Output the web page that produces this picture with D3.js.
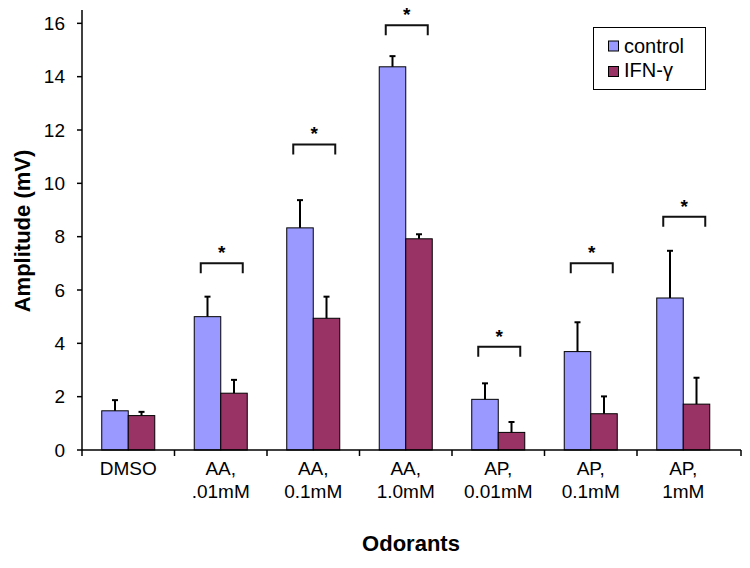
<!DOCTYPE html>
<html>
<head>
<meta charset="utf-8">
<script src="https://cdn.jsdelivr.net/npm/d3@7"></script>
<style>
  html, body { margin: 0; padding: 0; background: #fff; }
  svg { display: block; font-family: "Liberation Sans", Arial, sans-serif; }
</style>
</head>
<body>
<svg id="chart" width="750" height="568"></svg>
<script>
// ---- data ----
const categories = [["DMSO"], ["AA,", ".01mM"], ["AA,", "0.1mM"], ["AA,", "1.0mM"], ["AP,", "0.01mM"], ["AP,", "0.1mM"], ["AP,", "1mM"]];
const seriesNames = ["control", "IFN-\u03B3"];
const controlValues = [1.47, 5.0, 8.33, 14.37, 1.9, 3.69, 5.7];
const controlErrors = [0.4, 0.75, 1.04, 0.4, 0.6, 1.1, 1.77];
const ifnValues = [1.29, 2.13, 4.94, 7.92, 0.66, 1.36, 1.72];
const ifnErrors = [0.14, 0.5, 0.81, 0.17, 0.39, 0.65, 0.99];
const bracketLevels = [null, 7.0, 11.46, 15.93, 3.87, 7.0, 8.75];
const yTicks = [0, 2, 4, 6, 8, 10, 12, 14, 16];
const colors = ["#9999FF", "#993366"];

(function () {
// ---- layout ----
const svg = d3.select("#chart");
const mLeft = 82, mBottom = 450, mTop = 10, axisEnd = 741, bandEnd = 729.5;

const y = d3.scaleLinear().domain([0, 16.5]).range([mBottom, mTop]);
const x = d3.scaleBand().domain(d3.range(categories.length)).range([mLeft, bandEnd]).paddingInner(0).paddingOuter(0);
const xs = d3.scaleBand().domain([0, 1]).range([0, x.bandwidth()]).paddingInner(0).paddingOuter(0.745);

svg.append("rect").attr("width", 750).attr("height", 568).attr("fill", "#fff");

const series = [
  { name: seriesNames[0], values: controlValues, errors: controlErrors, color: colors[0] },
  { name: seriesNames[1], values: ifnValues, errors: ifnErrors, color: colors[1] }
];

// bars
series.forEach((s, si) => {
  const g = svg.append("g");
  g.selectAll("rect").data(s.values).enter().append("rect")
    .attr("x", (d, i) => x(i) + xs(si))
    .attr("y", d => y(d))
    .attr("width", xs.bandwidth())
    .attr("height", d => y(0) - y(d))
    .attr("fill", s.color)
    .attr("stroke", "#000")
    .attr("stroke-width", 1);
  const eg = svg.append("g").attr("stroke", "#000").attr("stroke-width", 2);
  s.values.forEach((v, i) => {
    const cx = x(i) + xs(si) + xs.bandwidth() / 2;
    const yt = y(v + s.errors[i]);
    eg.append("line").attr("x1", cx).attr("x2", cx).attr("y1", y(v)).attr("y2", yt);
    eg.append("line").attr("x1", cx - 3).attr("x2", cx + 3).attr("y1", yt).attr("y2", yt);
  });
});

// significance brackets
const bg = svg.append("g");
bracketLevels.forEach((b, i) => {
  if (b == null) return;
  const cx = x(i) + x.bandwidth() / 2 + 1;
  const yb = y(b);
  bg.append("path")
    .attr("d", `M${cx - 21},${yb + 10}V${yb}H${cx + 21}V${yb + 10}`)
    .attr("fill", "none").attr("stroke", "#111").attr("stroke-width", 2);
  bg.append("text").attr("x", cx).attr("y", yb - 4)
    .attr("text-anchor", "middle").attr("font-size", 19).attr("font-weight", "bold").attr("fill", "#000").text("*");
});

// y axis
const yAxis = svg.append("g");
yAxis.append("line").attr("x1", mLeft).attr("x2", mLeft).attr("y1", y(0)).attr("y2", mTop)
  .attr("stroke", "#000").attr("stroke-width", 1.5);
yTicks.forEach(t => {
  yAxis.append("line").attr("x1", mLeft - 5).attr("x2", mLeft).attr("y1", y(t)).attr("y2", y(t))
    .attr("stroke", "#000").attr("stroke-width", 1.5);
  yAxis.append("text").attr("x", mLeft - 17).attr("y", y(t)).attr("dy", "0.35em")
    .attr("text-anchor", "end").attr("font-size", 19).attr("fill", "#000").text(t);
});

// x axis
const xAxis = svg.append("g");
xAxis.append("line").attr("x1", mLeft).attr("x2", axisEnd).attr("y1", mBottom).attr("y2", mBottom)
  .attr("stroke", "#000").attr("stroke-width", 1.5);
const tickXs = d3.range(categories.length).map(i => x(i)).concat([axisEnd]);
tickXs.forEach(tx => {
  xAxis.append("line").attr("x1", tx).attr("x2", tx).attr("y1", mBottom).attr("y2", mBottom + 6)
    .attr("stroke", "#000").attr("stroke-width", 1.5);
});
categories.forEach((lines, i) => {
  const t = xAxis.append("text").attr("text-anchor", "middle").attr("font-size", 19).attr("fill", "#000");
  lines.forEach((ln, k) => {
    t.append("tspan").attr("x", x(i) + x.bandwidth() / 2).attr("y", 475 + k * 23).text(ln);
  });
});

// axis titles
svg.append("text").attr("transform", "translate(30,231) rotate(-90)")
  .attr("text-anchor", "middle").attr("font-size", 22).attr("font-weight", "bold").text("Amplitude (mV)");
svg.append("text").attr("x", 411).attr("y", 551)
  .attr("text-anchor", "middle").attr("font-size", 22).attr("font-weight", "bold").text("Odorants");

// legend
const lg = svg.append("g");
lg.append("rect").attr("x", 593.5).attr("y", 27.5).attr("width", 112).attr("height", 62)
  .attr("fill", "#fff").attr("stroke", "#000").attr("stroke-width", 1);
series.forEach((s, i) => {
  lg.append("rect").attr("x", 608.5).attr("y", 41 + i * 25.5).attr("width", 10).attr("height", 10)
    .attr("fill", s.color).attr("stroke", "#000").attr("stroke-width", 1);
  lg.append("text").attr("x", 624).attr("y", 53 + i * 24).attr("font-size", 20).text(s.name);
});
})();
</script>
</body>
</html>
